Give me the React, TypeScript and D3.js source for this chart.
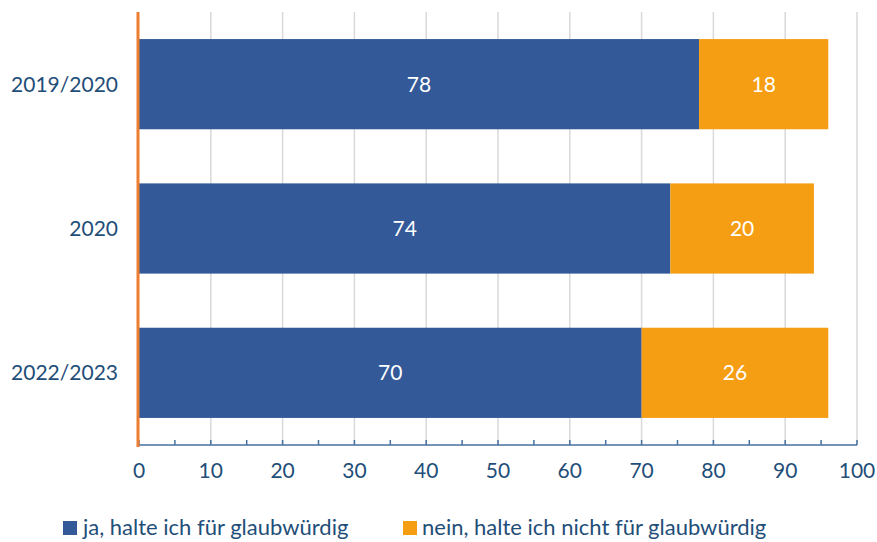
import React from 'react'
import * as d3 from 'd3'

const categories = ['2019/2020', '2020', '2022/2023']
const jaValues = [78, 74, 70]
const neinValues = [18, 20, 26]
const seriesNames = ['ja, halte ich für glaubwürdig', 'nein, halte ich nicht für glaubwürdig']
const tickValues = [0, 10, 20, 30, 40, 50, 60, 70, 80, 90, 100]
const minorTicks = d3.range(0, 101, 5)

const width = 877
const height = 542
const margin = { top: 12, right: 20, bottom: 97, left: 139 }
const blue = '#335998'
const orange = '#F59E13'
const textBlue = '#1F4E79'
const font = 'Lato, "Open Sans", sans-serif'

const App = () => {
  const x = d3.scaleLinear().domain([0, 100]).range([margin.left, width - margin.right])
  const y = d3.scaleBand()
    .domain(categories)
    .range([margin.top, height - margin.bottom])
    .paddingInner(0.375)
    .paddingOuter(0.1875)
  const axisY = height - margin.bottom

  const rows = categories.map((c, i) => ({ cat: c, ja: jaValues[i], nein: neinValues[i] }))

  return (
    <svg width={width} height={height} style={{ position: 'absolute', left: 0, top: 0, fontFamily: font }}>
      {/* gridlines */}
      {tickValues.slice(1).map(t => (
        <line key={'g' + t} x1={x(t)} x2={x(t)} y1={margin.top} y2={axisY} stroke="#d9d9d9" strokeWidth={1.5} />
      ))}

      {rows.map(r => (
        <g key={r.cat}>
          <rect x={x(0)} y={y(r.cat)} width={x(r.ja) - x(0)} height={y.bandwidth()} fill={blue} />
          <rect x={x(r.ja)} y={y(r.cat)} width={x(r.ja + r.nein) - x(r.ja)} height={y.bandwidth()} fill={orange} />
          <text x={(x(0) + x(r.ja)) / 2} y={y(r.cat)! + y.bandwidth() / 2} dy="0.35em" textAnchor="middle"
            fill="#fff" fontSize={21}>{r.ja}</text>
          <text x={(x(r.ja) + x(r.ja + r.nein)) / 2} y={y(r.cat)! + y.bandwidth() / 2} dy="0.35em" textAnchor="middle"
            fill="#fff" fontSize={21}>{r.nein}</text>
          <text x={118} y={y(r.cat)! + y.bandwidth() / 2} dy="0.35em" textAnchor="end"
            fill={textBlue} fontSize={21}>{r.cat}</text>
        </g>
      ))}

      {/* x axis */}
      <line x1={x(0)} x2={x(100)} y1={axisY} y2={axisY} stroke="#44719f" strokeWidth={1.5} />
      {minorTicks.map(t => (
        <line key={'t' + t} x1={x(t)} x2={x(t)} y1={axisY} y2={axisY - 5} stroke="#44719f" strokeWidth={1.5} />
      ))}
      {tickValues.map(t => (
        <text key={'l' + t} x={x(t)} y={478} textAnchor="middle" fill={textBlue} fontSize={21}>{t}</text>
      ))}

      {/* y axis line */}
      <line x1={x(0) - 1} x2={x(0) - 1} y1={margin.top} y2={axisY + 2} stroke="#ED7D31" strokeWidth={3} />

      {/* legend */}
      <rect x={63} y={521} width={14} height={14} fill={blue} />
      <text x={83} y={535} fill={textBlue} fontSize={22}>{seriesNames[0]}</text>
      <rect x={403} y={521} width={14} height={14} fill={orange} />
      <text x={422} y={535} fill={textBlue} fontSize={22}>{seriesNames[1]}</text>
    </svg>
  )
}

export default App
